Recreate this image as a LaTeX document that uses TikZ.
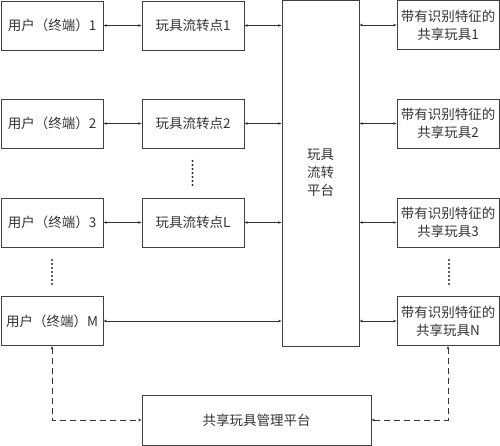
\documentclass[tikz,border=0pt]{standalone}
\usepackage{fontspec}
\newfontfamily\cjk{Noto Sans CJK SC}
\usetikzlibrary{arrows.meta}
\begin{document}
\begin{tikzpicture}[x=1pt,y=-1pt,
  caja/.style={draw=black!75,line width=0.9pt,rectangle,minimum width=102pt,minimum height=49pt,inner sep=0pt,align=center,font=\cjk\fontsize{13.5}{18}\selectfont,text=black!80},
  flecha/.style={{Stealth[length=3.5pt,width=2.6pt]}-{Stealth[length=3.5pt,width=2.6pt]},line width=0.6pt,black!80},
  trazos/.style={dash pattern=on 6pt off 4pt,line width=0.9pt}]
        \useasboundingbox (0,0) rectangle (500,445);
        % columna de usuarios
        \node[caja] (u1) at (52,25.5) {用户（终端）1};
        \node[caja] (u2) at (52,123.5) {用户（终端）2};
        \node[caja] (u3) at (52,222.5) {用户（终端）3};
        \node[caja] (uM) at (52,321) {用户（终端）M};
        % puntos de circulacion
        \node[caja] (p1) at (193,25.5) {玩具流转点1};
        \node[caja] (p2) at (193,123.5) {玩具流转点2};
        \node[caja] (p3) at (193,222.5) {玩具流转点L};
        % plataforma
        \node[caja,minimum width=77pt,minimum height=346pt] (plat) at (320.5,173) {玩具\\流转\\平台};
        % juguetes compartidos
        \node[caja] (t1) at (448,25) {带有识别特征的\\共享玩具1};
        \node[caja] (t2) at (448,123.5) {带有识别特征的\\共享玩具2};
        \node[caja] (t3) at (448,222.5) {带有识别特征的\\共享玩具3};
        \node[caja] (tN) at (448,321) {带有识别特征的\\共享玩具N};
        \node[caja,minimum width=229pt,minimum height=50pt] (gest) at (256.5,420) {共享玩具管理平台};
        \foreach \i in {1,2,3}
        {
        \draw[flecha] (u\i.east) -- (p\i.west);
        \draw[flecha] (p\i.east) -- (p\i.east -| plat.west);
        \draw[flecha] (t\i.west -| plat.east) -- (t\i.west);
        }
        \draw[flecha] (uM.east) -- (uM.east -| plat.west);
        \draw[flecha] (tN.west -| plat.east) -- (tN.west);
        \draw[flecha,trazos] (uM.south) |- (gest.west);
        \draw[flecha,trazos] (tN.south) |- (gest.east);
        % puntos suspensivos
        \foreach \y in {0,...,6}
        {
        \fill[black!85] (52,260+4*\y) circle [radius=1.1];
        \fill[black!85] (449,260+4*\y) circle [radius=1.1];
        \fill[black!85] (192.5,161+4*\y) circle [radius=1.1];
        }
        \end{tikzpicture}
\end{document}
